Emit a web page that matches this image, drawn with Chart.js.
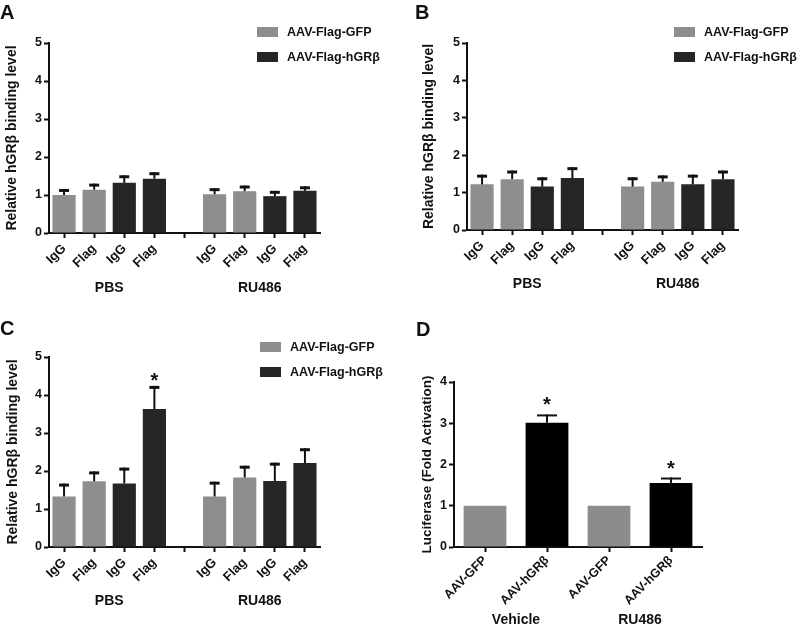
<!DOCTYPE html>
<html><head><meta charset="utf-8">
<script src="https://cdn.jsdelivr.net/npm/chart.js@4.4.1/dist/chart.umd.min.js"></script>
<style>
body{margin:0;background:#fff;}
#wrap{position:relative;width:800px;height:627px;overflow:hidden;font-family:"Liberation Sans",Arial,sans-serif;font-weight:bold;color:#111;}
canvas{position:absolute;}
.lt{position:absolute;font-size:20px;font-weight:bold;line-height:20px;}
.lg{position:absolute;font-size:12.5px;font-weight:bold;line-height:12px;white-space:nowrap;}
.sw{position:absolute;width:21px;height:10px;}
</style></head><body>
<div id="wrap">
  <canvas id="cA" width="400" height="300" style="left:0;top:0"></canvas>
  <canvas id="cB" width="400" height="300" style="left:400px;top:0"></canvas>
  <canvas id="cC" width="400" height="327" style="left:0;top:300px"></canvas>
  <canvas id="cD" width="400" height="327" style="left:400px;top:300px"></canvas>
  <div class="lt" style="left:0;top:2px">A</div>
  <div class="lt" style="left:415px;top:2px">B</div>
  <div class="lt" style="left:0;top:318px">C</div>
  <div class="lt" style="left:416px;top:319px">D</div>
  <div id="legends"></div>
</div>
<script>
// ---------- data ----------
const subLabels = ['IgG', 'Flag', 'IgG', 'Flag'];
const groupNamesABC = ['PBS', 'RU486'];
const seriesNames = ['AAV-Flag-GFP', 'AAV-Flag-hGRβ'];
const yTicksABC = [0, 1, 2, 3, 4, 5];

// order of each array: PBS IgG, PBS Flag, RU486 IgG, RU486 Flag
const aGfp = [1.00, 1.14, 1.02, 1.10];
const aGfpErr = [0.12, 0.12, 0.12, 0.11];
const aHgr = [1.32, 1.43, 0.97, 1.11];
const aHgrErr = [0.16, 0.13, 0.10, 0.08];

const bGfp = [1.22, 1.36, 1.16, 1.29];
const bGfpErr = [0.22, 0.19, 0.21, 0.13];
const bHgr = [1.16, 1.39, 1.22, 1.36];
const bHgrErr = [0.21, 0.25, 0.22, 0.19];

const cGfp = [1.33, 1.73, 1.33, 1.83];
const cGfpErr = [0.30, 0.22, 0.35, 0.27];
const cHgr = [1.67, 3.63, 1.74, 2.21];
const cHgrErr = [0.38, 0.57, 0.44, 0.35];

const dCategories = ['AAV-GFP', 'AAV-hGRβ', 'AAV-GFP', 'AAV-hGRβ'];
const dGroupNames = ['Vehicle', 'RU486'];
const dGfp = [1.00, 1.00];       // Vehicle, RU486
const dGfpErr = [0, 0];
const dHgr = [3.01, 1.55];       // Vehicle, RU486
const dHgrErr = [0.18, 0.11];
const yTicksD = [0, 1, 2, 3, 4];

// ---------- helpers ----------
const FONT = '"Liberation Sans", Arial, sans-serif';
const GRAY = '#8e8e8e', DARK = '#262626', BLACK = '#000000', INK = '#111111';

// 9 category slots: PBS group (4), empty gap, RU486 group (4)
const slotLabels = [...subLabels, '', ...subLabels];
const gfpSlots = [0, 1, 5, 6];
const hgrSlots = [2, 3, 7, 8];
function toSlots(vals, slots, n) {
  const out = new Array(n).fill(null);
  slots.forEach((s, k) => { out[s] = vals[k]; });
  return out;
}

const errorBars = {
  id: 'errorBars',
  afterDatasetsDraw(chart, args, o) {
    const ctx = chart.ctx, ys = chart.scales.y;
    chart.data.datasets.forEach((ds, di) => {
      if (!ds.errors) return;
      const meta = chart.getDatasetMeta(di);
      meta.data.forEach((bar, i) => {
        const v = ds.data[i], e = ds.errors[i];
        if (v == null) return;
        const yt = ys.getPixelForValue(v + (e || 0));
        ctx.save();
        if (e) {
          ctx.strokeStyle = o.color;
          ctx.lineWidth = o.lineWidth;
          ctx.beginPath(); ctx.moveTo(bar.x, bar.y); ctx.lineTo(bar.x, yt - o.capWidth / 2); ctx.stroke();
          ctx.lineWidth = o.capWidth;
          ctx.beginPath(); ctx.moveTo(bar.x - o.capLen / 2, yt); ctx.lineTo(bar.x + o.capLen / 2, yt); ctx.stroke();
        }
        if (ds.stars && ds.stars.includes(i)) {
          ctx.fillStyle = INK;
          ctx.font = o.starFont;
          ctx.textAlign = 'center';
          ctx.textBaseline = 'alphabetic';
          ctx.fillText('*', bar.x, yt + o.starOffset);
        }
        ctx.restore();
      });
    });
  }
};

const groupLabels = {
  id: 'groupLabels',
  afterDraw(chart, args, o) {
    const ctx = chart.ctx, xs = chart.scales.x;
    ctx.save();
    ctx.fillStyle = INK;
    ctx.font = o.font;
    ctx.textAlign = 'center';
    ctx.textBaseline = 'middle';
    o.labels.forEach((t, k) => ctx.fillText(t, xs.getPixelForValue(o.centers[k]), o.y));
    ctx.restore();
  }
};

function makeChart(id, g) {
  return new Chart(document.getElementById(id), {
    type: 'bar',
    data: { labels: g.labels, datasets: g.datasets },
    options: {
      responsive: false,
      animation: false,
      events: [],
      layout: { padding: { top: g.top, right: g.right, left: 0, bottom: 0 } },
      datasets: { bar: { grouped: false, categoryPercentage: 1, barPercentage: g.barPct, borderWidth: 0 } },
      plugins: {
        legend: { display: false },
        tooltip: { enabled: false },
        errorBars: g.err,
        groupLabels: { labels: g.groups, centers: g.groupCenters, y: g.groupY, font: 'bold 14px ' + FONT }
      },
      scales: {
        x: {
          afterFit(s) { s.height = g.xHeight; },
          border: { color: INK, width: 2 },
          grid: { display: true, drawOnChartArea: false, offset: false, color: INK, tickLength: 5, tickWidth: 2 },
          ticks: { color: INK, font: { family: FONT, weight: 'bold', size: g.xFont }, minRotation: 45, maxRotation: 45, padding: g.xPad, autoSkip: false }
        },
        y: {
          min: 0, max: g.yTicks[g.yTicks.length - 1],
          afterFit(s) { s.width = g.yWidth; },
          afterBuildTicks(s) { s.ticks = g.yTicks.map(v => ({ value: v })); },
          border: { color: INK, width: 2 },
          grid: { display: true, drawOnChartArea: false, color: INK, tickLength: 5, tickWidth: 2 },
          ticks: { color: INK, font: { family: FONT, weight: 'bold', size: 12.5 }, padding: 2 },
          title: { display: true, text: g.yTitle, color: INK, font: { family: FONT, weight: 'bold', size: g.titleSize }, padding: { top: g.titlePad, bottom: 0 } }
        }
      }
    },
    plugins: [errorBars, groupLabels]
  });
}

function abcDatasets(gfp, gfpErr, hgr, hgrErr, barColorDark, starsHgr) {
  const n = slotLabels.length;
  return [
    { label: seriesNames[0], data: toSlots(gfp, gfpSlots, n), errors: toSlots(gfpErr, gfpSlots, n), backgroundColor: GRAY },
    { label: seriesNames[1], data: toSlots(hgr, hgrSlots, n), errors: toSlots(hgrErr, hgrSlots, n), backgroundColor: barColorDark, stars: (starsHgr || []).map(k => hgrSlots[k]) }
  ];
}

const errABC = { color: INK, lineWidth: 2, capWidth: 3, capLen: 10, starFont: 'bold 20px ' + FONT, starOffset: 0 };
const yTitleABC = 'Relative hGRβ binding level';

makeChart('cA', {
  labels: slotLabels, datasets: abcDatasets(aGfp, aGfpErr, aHgr, aHgrErr, DARK),
  top: 43, right: 80, yWidth: 49, xHeight: 67, barPct: 0.77, xFont: 13, xPad: 3,
  yTicks: yTicksABC, yTitle: yTitleABC, titleSize: 14, titlePad: 4, err: errABC,
  groups: groupNamesABC, groupCenters: [1.5, 6.5], groupY: 288
});
makeChart('cB', {
  labels: slotLabels, datasets: abcDatasets(bGfp, bGfpErr, bHgr, bHgrErr, DARK),
  top: 43, right: 62, yWidth: 67, xHeight: 70, barPct: 0.77, xFont: 13, xPad: 3,
  yTicks: yTicksABC, yTitle: yTitleABC, titleSize: 14, titlePad: 21, err: errABC,
  groups: groupNamesABC, groupCenters: [1.5, 6.5], groupY: 284
});
makeChart('cC', {
  labels: slotLabels, datasets: abcDatasets(cGfp, cGfpErr, cHgr, cHgrErr, DARK, [1]),
  top: 57, right: 80, yWidth: 49, xHeight: 80, barPct: 0.77, xFont: 13, xPad: 3,
  yTicks: yTicksABC, yTitle: yTitleABC, titleSize: 14, titlePad: 5, err: errABC,
  groups: groupNamesABC, groupCenters: [1.5, 6.5], groupY: 301
});
makeChart('cD', {
  labels: dCategories,
  datasets: [
    { label: 'AAV-GFP', data: toSlots(dGfp, [0, 2], 4), errors: toSlots(dGfpErr, [0, 2], 4), backgroundColor: '#8c8c8c' },
    { label: 'AAV-hGRβ', data: toSlots(dHgr, [1, 3], 4), errors: toSlots(dHgrErr, [1, 3], 4), backgroundColor: BLACK, stars: [1, 3] }
  ],
  top: 82, right: 98, yWidth: 54, xHeight: 80, barPct: 0.69, xFont: 12.5, xPad: 1,
  yTicks: yTicksD, yTitle: 'Luciferase (Fold Activation)', titleSize: 13.5, titlePad: 19,
  err: { color: INK, lineWidth: 2, capWidth: 2, capLen: 20, starFont: 'bold 20px ' + FONT, starOffset: -4 },
  groups: dGroupNames, groupCenters: [0.5, 2.5], groupY: 320
});

// ---------- legends (A, B, C) ----------
const legendPos = [ { x: 257, y: 27 }, { x: 674, y: 27 }, { x: 260, y: 342 } ];
const legendColors = [GRAY, DARK];
const lgHost = document.getElementById('legends');
legendPos.forEach(p => {
  seriesNames.forEach((name, k) => {
    const sw = document.createElement('div');
    sw.className = 'sw';
    sw.style.left = p.x + 'px'; sw.style.top = (p.y + k * 24.5) + 'px';
    sw.style.background = legendColors[k];
    lgHost.appendChild(sw);
    const tx = document.createElement('div');
    tx.className = 'lg';
    tx.textContent = name;
    tx.style.left = (p.x + 30) + 'px'; tx.style.top = (p.y + k * 24.5 - 1) + 'px';
    lgHost.appendChild(tx);
  });
});
</script>
</body></html>
